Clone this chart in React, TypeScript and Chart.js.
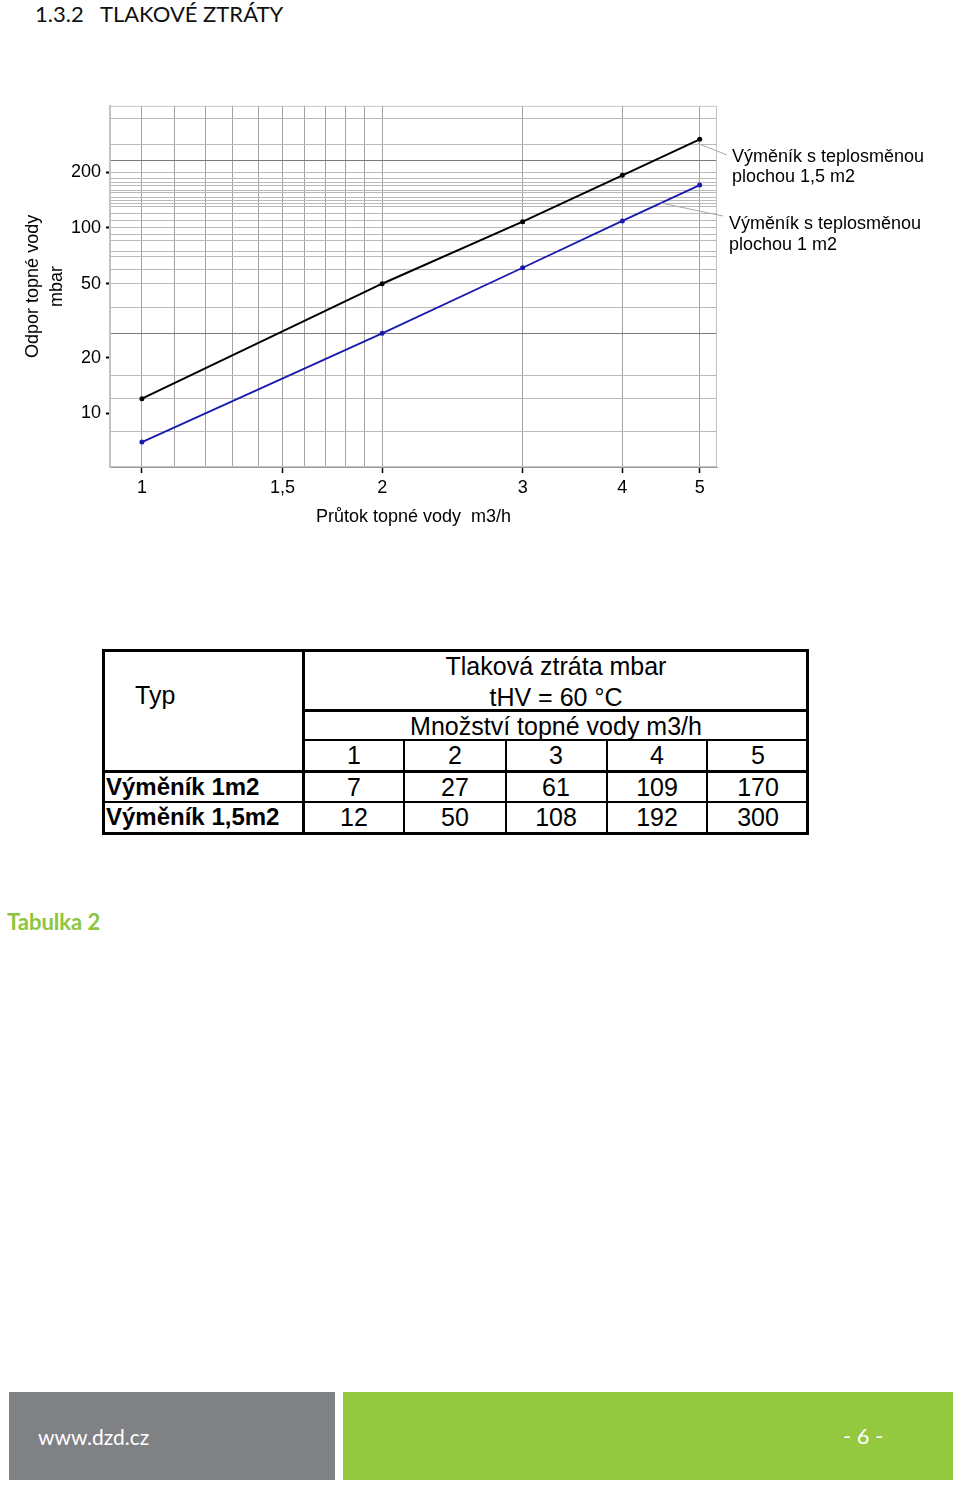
import React, { useEffect, useRef } from "react";
import { Chart, registerables } from "chart.js";

Chart.register(...registerables);

// ---- data ----
const flowRates = [1, 2, 3, 4, 5];
const loss1m2 = [7, 27, 61, 109, 170];
const loss15m2 = [12, 50, 108, 192, 300];
const seriesNames = ["Výměník 1m2", "Výměník 1,5m2"];
const xGridValues = [1, 1.1, 1.2, 1.3, 1.4, 1.5, 1.6, 1.7, 1.8, 1.9, 2, 3, 4, 5];
const xLabelValues = [1, 1.5, 2, 3, 4, 5];
const yGridValues = [8, 10, 12, 16, 20, 27, 37, 50, 60, 70, 75, 85, 92, 100, 110, 120, 130, 135, 140, 145, 155, 160, 170, 175, 185, 200, 230, 280, 390];
const yLabelValues = [10, 20, 50, 100, 200];
const yDarkLines = [27, 230];
const yHiddenLines = [10, 20];
const xRange = [0.912, 5.256];
const yRange = [5.14, 455];

const ARIAL = '"Liberation Sans", Arial, sans-serif';
const has = (arr: number[], v: number) => arr.some((a) => Math.abs(a - v) < 1e-9);
const fmt = (v: number) => String(v).replace(".", ",");

const leaderPlugin = {
  id: "leaders",
  beforeDatasetsDraw(chart: any) {
    const { ctx, chartArea } = chart;
    ctx.save();
    ctx.strokeStyle = "#c4c4c4";
    ctx.lineWidth = 1;
    ctx.strokeRect(chartArea.left + 0.5, chartArea.top + 0.5, chartArea.right - chartArea.left - 1, chartArea.bottom - chartArea.top - 1);
    ctx.restore();
  },
  afterDatasetsDraw(chart: any) {
    const { ctx } = chart;
    const m0 = chart.getDatasetMeta(0).data;
    const m1 = chart.getDatasetMeta(1).data;
    ctx.save();
    ctx.strokeStyle = "#a8a8a8";
    ctx.lineWidth = 1;
    const p = m0[m0.length - 1];
    ctx.beginPath();
    ctx.moveTo(p.x - 2, p.y + 4);
    ctx.lineTo(727, 65);
    ctx.stroke();
    const a = m1[m1.length - 2];
    const b = m1[m1.length - 1];
    ctx.beginPath();
    ctx.moveTo((a.x + b.x) / 2, (a.y + b.y) / 2);
    ctx.lineTo(723, 126);
    ctx.stroke();
    ctx.restore();
  },
};

function ChartBox() {
  const ref = useRef<HTMLCanvasElement | null>(null);
  useEffect(() => {
    if (!ref.current) return;
    const chart = new Chart(ref.current, {
      type: "line",
      data: {
        datasets: [
          {
            label: seriesNames[1],
            data: flowRates.map((x, i) => ({ x, y: loss15m2[i] })),
            borderColor: "#000000",
            backgroundColor: "#000000",
            borderWidth: 2,
            pointRadius: 2.5,
            pointBackgroundColor: "#000000",
            pointBorderWidth: 0,
          },
          {
            label: seriesNames[0],
            data: flowRates.map((x, i) => ({ x, y: loss1m2[i] })),
            borderColor: "#1a1ab0",
            backgroundColor: "#1a1ab0",
            borderWidth: 1.8,
            pointRadius: 2.5,
            pointBackgroundColor: "#1a1ab0",
            pointBorderWidth: 0,
          },
        ],
      },
      options: {
        responsive: false,
        animation: false,
        devicePixelRatio: 1,
        layout: { padding: { top: 13, right: 243, left: 0, bottom: 0 } },
        plugins: { legend: { display: false }, tooltip: { enabled: false } },
        scales: {
          x: {
            type: "logarithmic",
            min: xRange[0],
            max: xRange[1],
            bounds: "data",
            afterBuildTicks: (s: any) => {
              s.ticks = xGridValues.map((v) => ({ value: v }));
            },
            afterFit: (s: any) => {
              s.height = 73;
            },
            ticks: {
              autoSkip: false,
              maxRotation: 0,
              minRotation: 0,
              padding: 4,
              color: "#000",
              font: { family: ARIAL, size: 18 },
              callback: (v: any) => (has(xLabelValues, Number(v)) ? fmt(Number(v)) : ""),
            },
            grid: {
              color: "#a2a2a2",
              lineWidth: 1,
              drawTicks: true,
              tickLength: 6,
              tickWidth: 1.5,
              tickColor: (c: any) => (c.tick && has(xLabelValues, c.tick.value) ? "#000" : "rgba(0,0,0,0)"),
            },
            border: { display: true, color: "#9a9a9a" },
            title: {
              display: true,
              text: "Průtok topné vody  m3/h",
              color: "#000",
              font: { family: ARIAL, size: 18 },
              padding: { top: 0, bottom: 12 },
            },
          },
          y: {
            type: "logarithmic",
            min: yRange[0],
            max: yRange[1],
            bounds: "data",
            afterBuildTicks: (s: any) => {
              s.ticks = yGridValues.map((v) => ({ value: v }));
            },
            afterFit: (s: any) => {
              s.width = 110;
            },
            ticks: {
              autoSkip: false,
              padding: 5,
              color: "#000",
              font: { family: ARIAL, size: 18 },
              callback: (v: any) => (has(yLabelValues, Number(v)) ? String(v) : ""),
            },
            grid: {
              color: (c: any) => {
                const v = c.tick ? c.tick.value : 0;
                if (has(yHiddenLines, v)) return "rgba(0,0,0,0)";
                if (has(yDarkLines, v)) return "#7a7a7a";
                return "#b8b8b8";
              },
              lineWidth: 1,
              drawTicks: true,
              tickLength: 4,
              tickWidth: 2,
              tickColor: (c: any) => (c.tick && has(yLabelValues, c.tick.value) ? "#000" : "rgba(0,0,0,0)"),
            },
            border: { display: true, color: "#c4c4c4", width: 2 },
            title: {
              display: true,
              text: ["Odpor topné vody", "mbar"],
              color: "#000",
              font: { family: ARIAL, size: 18, lineHeight: 1.33 },
              padding: { top: 21, bottom: 0 },
            },
          },
        },
      },
      plugins: [leaderPlugin],
    });
    return () => chart.destroy();
  }, []);
  return <canvas ref={ref} width={960} height={450} style={{ display: "block" }} />;
}

const abs = (s: React.CSSProperties): React.CSSProperties => ({ position: "absolute", ...s });

function Line({ x, y, w, h }: { x: number; y: number; w: number; h: number }) {
  return <div style={abs({ left: x, top: y, width: w, height: h, background: "#000" })} />;
}

function Txt({ cx, cy, text, bold, left }: { cx: number; cy: number; text: string; bold?: boolean; left?: boolean }) {
  const style: React.CSSProperties = abs({
    top: cy - 15,
    height: 30,
    lineHeight: "30px",
    fontSize: bold ? 24 : 25,
    fontWeight: bold ? 700 : 400,
    whiteSpace: "pre",
    color: "#000",
  });
  if (left) {
    style.left = cx;
  } else {
    style.left = cx - 160;
    style.width = 320;
    style.textAlign = "center";
  }
  return <div style={style}>{text}</div>;
}

function DataTable() {
  const colCenters = [354, 455, 556, 657, 758];
  const colLines = [404, 506, 607, 707];
  return (
    <>
      <Line x={102} y={649} w={707} h={3} />
      <Line x={102} y={832} w={707} h={3} />
      <Line x={102} y={649} w={3} h={186} />
      <Line x={806} y={649} w={3} h={186} />
      <Line x={302} y={649} w={3} h={186} />
      <Line x={302} y={709} w={507} h={3} />
      <Line x={302} y={739} w={507} h={2} />
      <Line x={102} y={770} w={707} h={3} />
      <Line x={102} y={801} w={707} h={2} />
      {colLines.map((x) => (
        <Line key={x} x={x - 1} y={740} w={2} h={93} />
      ))}
      <Txt cx={135} cy={695} text="Typ" left />
      <Txt cx={556} cy={666} text="Tlaková ztráta mbar" />
      <Txt cx={556} cy={697} text="tHV = 60 °C" />
      <Txt cx={556} cy={726} text="Množství topné vody m3/h" />
      {flowRates.map((v, i) => (
        <Txt key={"h" + i} cx={colCenters[i]} cy={755} text={String(v)} />
      ))}
      <Txt cx={106} cy={787} text={seriesNames[0]} bold left />
      {loss1m2.map((v, i) => (
        <Txt key={"a" + i} cx={colCenters[i]} cy={787} text={String(v)} />
      ))}
      <Txt cx={106} cy={817} text={seriesNames[1]} bold left />
      {loss15m2.map((v, i) => (
        <Txt key={"b" + i} cx={colCenters[i]} cy={817} text={String(v)} />
      ))}
    </>
  );
}

export default function App() {
  return (
    <div
      style={abs({
        left: 0,
        top: 0,
        width: 960,
        height: 1489,
        overflow: "hidden",
        background: "#fff",
        fontFamily: ARIAL,
      })}
    >
      <div style={abs({ left: 35, top: 0, height: 28, lineHeight: "28px", fontFamily: "Lato, sans-serif", fontSize: 22, whiteSpace: "pre", color: "#111" })}>
        1.3.2   TLAKOVÉ ZTRÁTY
      </div>
      <div style={abs({ left: 0, top: 90, width: 960, height: 450 })}>
        <ChartBox />
      </div>
      <div style={abs({ left: 732, top: 146, fontSize: 18, lineHeight: "20px", color: "#000", whiteSpace: "nowrap" })}>
        Výměník s teplosměnou
        <br />
        plochou 1,5 m2
      </div>
      <div style={abs({ left: 729, top: 213, fontSize: 18, lineHeight: "21px", color: "#000", whiteSpace: "nowrap" })}>
        Výměník s teplosměnou
        <br />
        plochou 1 m2
      </div>
      <DataTable />
      <div style={abs({ left: 7, top: 908, height: 28, lineHeight: "28px", fontFamily: "Lato, sans-serif", fontWeight: 700, fontSize: 22, color: "#8cc63f" })}>
        Tabulka 2
      </div>
      <div style={abs({ left: 9, top: 1392, width: 326, height: 88, background: "#808184" })} />
      <div style={abs({ left: 343, top: 1392, width: 610, height: 88, background: "#94c83f" })} />
      <div style={abs({ left: 38, top: 1423, height: 28, lineHeight: "28px", fontFamily: "Lato, sans-serif", fontSize: 21, color: "#fff" })}>
        www.dzd.cz
      </div>
      <div style={abs({ left: 843, top: 1422, height: 28, lineHeight: "28px", fontFamily: "Lato, sans-serif", fontSize: 22, color: "#fff", whiteSpace: "pre" })}>
        - 6 -
      </div>
    </div>
  );
}
